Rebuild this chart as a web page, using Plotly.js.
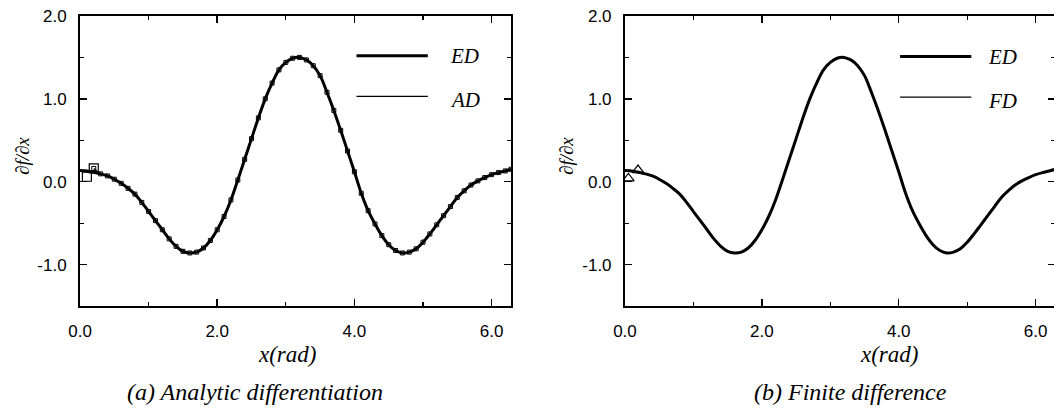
<!DOCTYPE html>
<html>
<head>
<meta charset="utf-8">
<script src="https://cdn.plot.ly/plotly-3.0.1.min.js"></script>
<style>
html,body{margin:0;padding:0;overflow:hidden;background:#fff;}
#chart{width:1060px;height:412px;}
</style>
</head>
<body>
<div id="chart"></div>
<script>
// x positions (rad)
var xVals = [0.0,0.1,0.2,0.3,0.4,0.5,0.6,0.7,0.8,0.9,1.0,1.1,1.2,1.3,1.4,1.5,1.6,1.7,1.8,1.9,2.0,2.1,2.2,2.3,2.4,2.5,2.6,2.7,2.8,2.9,3.0,3.1,3.2,3.3,3.4,3.5,3.6,3.7,3.8,3.9,4.0,4.1,4.2,4.3,4.4,4.5,4.6,4.7,4.8,4.9,5.0,5.1,5.2,5.3,5.4,5.5,5.6,5.7,5.8,5.9,6.0,6.1,6.2,6.283];
// exact derivative ED
var edVals = [0.135,0.13,0.115,0.095,0.07,0.03,-0.02,-0.08,-0.15,-0.25,-0.36,-0.47,-0.58,-0.69,-0.78,-0.84,-0.86,-0.85,-0.80,-0.71,-0.58,-0.42,-0.22,0.02,0.27,0.52,0.77,1.00,1.19,1.35,1.44,1.49,1.50,1.47,1.40,1.28,1.08,0.86,0.62,0.37,0.12,-0.14,-0.35,-0.51,-0.65,-0.76,-0.83,-0.86,-0.85,-0.81,-0.73,-0.63,-0.52,-0.41,-0.30,-0.19,-0.11,-0.04,0.01,0.05,0.085,0.11,0.13,0.15];
// analytic differentiation AD (panel a)
var adVals = [0.135,0.06,0.16,0.095,0.07,0.03,-0.02,-0.08,-0.15,-0.25,-0.36,-0.47,-0.58,-0.69,-0.78,-0.84,-0.86,-0.85,-0.80,-0.71,-0.58,-0.42,-0.22,0.02,0.27,0.52,0.77,1.00,1.19,1.35,1.44,1.49,1.50,1.47,1.40,1.28,1.08,0.86,0.62,0.37,0.12,-0.14,-0.35,-0.51,-0.65,-0.76,-0.83,-0.86,-0.85,-0.81,-0.73,-0.63,-0.52,-0.41,-0.30,-0.19,-0.11,-0.04,0.01,0.05,0.085,0.11,0.13,0.15];
// finite difference FD (panel b)
var fdX = [0.0,0.05,0.19,0.3,0.4,0.5,0.6,0.7,0.8,0.9,1.0,1.1,1.2,1.3,1.4,1.5,1.6,1.7,1.8,1.9,2.0,2.1,2.2,2.3,2.4,2.5,2.6,2.7,2.8,2.9,3.0,3.1,3.2,3.3,3.4,3.5,3.6,3.7,3.8,3.9,4.0,4.1,4.2,4.3,4.4,4.5,4.6,4.7,4.8,4.9,5.0,5.1,5.2,5.3,5.4,5.5,5.6,5.7,5.8,5.9,6.0,6.1,6.2,6.283];
var fdVals = [0.135,0.04,0.14,0.095,0.07,0.03,-0.02,-0.08,-0.15,-0.25,-0.36,-0.47,-0.58,-0.69,-0.78,-0.84,-0.86,-0.85,-0.80,-0.71,-0.58,-0.42,-0.22,0.02,0.27,0.52,0.77,1.00,1.19,1.35,1.44,1.49,1.50,1.47,1.40,1.28,1.08,0.86,0.62,0.37,0.12,-0.14,-0.35,-0.51,-0.65,-0.76,-0.83,-0.86,-0.85,-0.81,-0.73,-0.63,-0.52,-0.41,-0.30,-0.19,-0.11,-0.04,0.01,0.05,0.085,0.11,0.13,0.15];
var legendNames = ["ED", "AD", "FD"];
var xTickVals = [0, 2, 4, 6];
var xTickText = ["0.0", "2.0", "4.0", "6.0"];
var yTickVals = [-1, 0, 1, 2];
var yTickText = ["-1.0", "0.0", "1.0", "2.0"];
var captions = ["(a) Analytic differentiation", "(b) Finite difference"];
var xTitle = "x(rad)";
var yTitle = "∂f/∂x";

var serifI = {family: "Liberation Serif, Times New Roman, serif", color: "#000"};

var traces = [
  {x: xVals, y: edVals, xaxis: "x", yaxis: "y", mode: "lines", line: {color: "#000", width: 3, shape: "spline"}, name: legendNames[0], hoverinfo: "skip"},
  {x: xVals.slice(2), y: adVals.slice(2), xaxis: "x", yaxis: "y", mode: "lines+markers", line: {color: "#000", width: 1.2, shape: "spline"},
   marker: {symbol: "square-open", size: 4, color: "#000", line: {width: 1}}, name: legendNames[1], hoverinfo: "skip"},
  {x: xVals.slice(1, 3), y: adVals.slice(1, 3), xaxis: "x", yaxis: "y", mode: "markers",
   marker: {symbol: "square-open", size: 9, color: "#000", line: {width: 1.2}}, hoverinfo: "skip"},
  {x: xVals, y: edVals, xaxis: "x2", yaxis: "y2", mode: "lines", line: {color: "#000", width: 3, shape: "spline"}, name: legendNames[0], hoverinfo: "skip"},
  {x: fdX.slice(3), y: fdVals.slice(3), xaxis: "x2", yaxis: "y2", mode: "lines", line: {color: "#000", width: 1.2, shape: "spline"}, name: legendNames[2], hoverinfo: "skip"},
  {x: fdX.slice(1, 3), y: fdVals.slice(1, 3), xaxis: "x2", yaxis: "y2", mode: "markers",
   marker: {symbol: "triangle-up-open", size: 10, color: "#000", line: {width: 1.2}}, hoverinfo: "skip"}
];

function xax(domain, anchor) {
  return {
    domain: domain, anchor: anchor, range: [0, 2 * Math.PI],
    showgrid: false, zeroline: false, showline: true, linecolor: "#000", linewidth: 2,
    mirror: "allticks", ticks: "inside", ticklen: 7, tickwidth: 1.5, tickcolor: "#000",
    tickvals: xTickVals, ticktext: xTickText, ticklabelstandoff: 9,
    tickfont: {family: "Liberation Sans, Arial, sans-serif", size: 17, color: "#000"},
    minor: {ticks: "inside", ticklen: 4, tickwidth: 1.2, tickcolor: "#000", dtick: 1, tick0: 0, showgrid: false}
  };
}
function yax(anchor) {
  return {
    domain: [0.2573, 0.9612], anchor: anchor, range: [-1.5, 2.0],
    showgrid: false, zeroline: false, showline: true, linecolor: "#000", linewidth: 2,
    mirror: "allticks", ticks: "inside", ticklen: 7, tickwidth: 1.5, tickcolor: "#000",
    tickvals: yTickVals, ticktext: yTickText, ticklabelstandoff: 8,
    tickfont: {family: "Liberation Sans, Arial, sans-serif", size: 17, color: "#000"},
    minor: {ticks: "inside", ticklen: 4, tickwidth: 1.2, tickcolor: "#000", dtick: 0.5, tick0: 0, showgrid: false}
  };
}

var layout = {
  width: 1060, height: 412,
  margin: {l: 0, r: 0, t: 0, b: 0},
  paper_bgcolor: "#fff", plot_bgcolor: "#fff",
  showlegend: false,
  xaxis: xax([0.0755, 0.4821], "y"),
  yaxis: yax("x"),
  xaxis2: xax([0.5896, 0.9953], "y2"),
  yaxis2: yax("x2"),
  shapes: [
    {type: "line", xref: "x", yref: "y", x0: 4.03, x1: 5.07, y0: 1.52, y1: 1.52, line: {color: "#000", width: 3}},
    {type: "line", xref: "x", yref: "y", x0: 4.03, x1: 5.07, y0: 1.03, y1: 1.03, line: {color: "#000", width: 1.2}},
    {type: "line", xref: "x2", yref: "y2", x0: 4.02, x1: 5.06, y0: 1.51, y1: 1.51, line: {color: "#000", width: 3}},
    {type: "line", xref: "x2", yref: "y2", x0: 4.02, x1: 5.06, y0: 1.02, y1: 1.02, line: {color: "#000", width: 1.2}}
  ],
  annotations: [
    {xref: "x", yref: "y", x: 5.36, y: 1.52, xanchor: "left", yanchor: "middle", text: "<i>" + legendNames[0] + "</i>", showarrow: false, font: Object.assign({size: 21}, serifI)},
    {xref: "x", yref: "y", x: 5.36, y: 0.99, xanchor: "left", yanchor: "middle", text: "<i>" + legendNames[1] + "</i>", showarrow: false, font: Object.assign({size: 21}, serifI)},
    {xref: "x2", yref: "y2", x: 5.28, y: 1.51, xanchor: "left", yanchor: "middle", text: "<i>" + legendNames[0] + "</i>", showarrow: false, font: Object.assign({size: 21}, serifI)},
    {xref: "x2", yref: "y2", x: 5.28, y: 0.98, xanchor: "left", yanchor: "middle", text: "<i>" + legendNames[2] + "</i>", showarrow: false, font: Object.assign({size: 21}, serifI)},
    {xref: "paper", yref: "paper", x: 287 / 1060, y: (412 - 354) / 412, xanchor: "center", yanchor: "middle", text: "<i>" + xTitle + "</i>", showarrow: false, font: Object.assign({size: 23}, serifI)},
    {xref: "paper", yref: "paper", x: 889 / 1060, y: (412 - 354) / 412, xanchor: "center", yanchor: "middle", text: "<i>" + xTitle + "</i>", showarrow: false, font: Object.assign({size: 23}, serifI)},
    {xref: "paper", yref: "paper", x: 22 / 1060, y: (412 - 156) / 412, xanchor: "center", yanchor: "middle", textangle: -90, text: "<i>" + yTitle + "</i>", showarrow: false, font: Object.assign({size: 19}, serifI)},
    {xref: "paper", yref: "paper", x: 566 / 1060, y: (412 - 156) / 412, xanchor: "center", yanchor: "middle", textangle: -90, text: "<i>" + yTitle + "</i>", showarrow: false, font: Object.assign({size: 19}, serifI)},
    {xref: "paper", yref: "paper", x: 255 / 1060, y: (412 - 392) / 412, xanchor: "center", yanchor: "middle", text: "<i>" + captions[0] + "</i>", showarrow: false, font: Object.assign({size: 24}, serifI)},
    {xref: "paper", yref: "paper", x: 850 / 1060, y: (412 - 392) / 412, xanchor: "center", yanchor: "middle", text: "<i>" + captions[1] + "</i>", showarrow: false, font: Object.assign({size: 24}, serifI)}
  ]
};

Plotly.newPlot("chart", traces, layout, {staticPlot: true, displayModeBar: false});
</script>
</body>
</html>
